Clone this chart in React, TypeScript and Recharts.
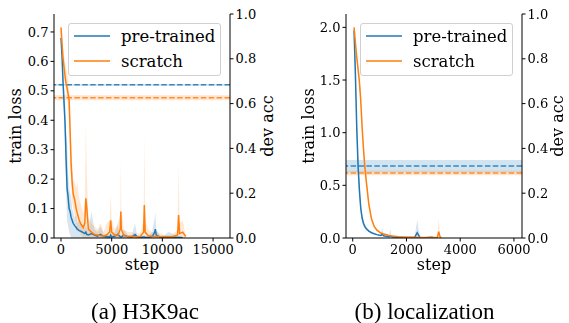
import {
  ComposedChart,
  XAxis,
  YAxis,
  Line,
  Area,
  ReferenceLine,
  ReferenceArea,
} from "recharts";

const BLUE = "#1f77b4";
const ORANGE = "#ff7f0e";
const FONT = "'DejaVu Serif', 'Liberation Serif', serif";

// (a) H3K9ac
const h3Steps = [
  0, 100, 200, 300, 400, 500, 600, 700, 800, 900,
  1000, 1100, 1200, 1350, 1500, 1600, 1800, 2000, 2200, 2350,
  2450, 2550, 2700, 3000, 3300, 3600, 3900, 4200, 4500, 4800,
  4900, 5000, 5300, 5600, 5850, 5900, 5950, 6200, 6600, 7000,
  7300, 7500, 7800, 8150, 8220, 8300, 8600, 9000, 9250, 9300,
  9400, 9800, 10200, 10600, 11000, 11500, 11600, 11700, 12000, 12300,
];
const h3Pre = [
  0.68, 0.62, 0.53, 0.46, 0.39, 0.27, 0.17, 0.14, 0.1, 0.09,
  0.07, 0.06, 0.05, 0.042, 0.036, 0.03, 0.025, 0.022, 0.018, 0.015,
  0.02, 0.012, 0.01, 0.015, 0.01, 0.006, 0.012, 0.005, 0.004, 0.003,
  0.01, 0.004, 0.006, 0.012, 0.004, 0.003, 0.003, 0.01, 0.004, 0.003,
  0.012, 0.004, 0.002, 0.003, 0.003, 0.002, 0.002, 0.005, 0.02, 0.03,
  0.01, 0.002, 0.002, 0.002, 0.003, 0.002, 0.002, 0.002, 0.001, null,
];
const h3PreLo = [
  0.66, 0.6, 0.5, 0.42, 0.33, 0.16, 0.06, 0.04, 0.02, 0.01,
  0, 0, 0, 0, 0, 0, 0, 0, 0, 0,
  0, 0, 0, 0, 0, 0, 0, 0, 0, 0,
  0, 0, 0, 0, 0, 0, 0, 0, 0, 0,
  0, 0, 0, 0, 0, 0, 0, 0, 0, 0,
  0, 0, 0, 0, 0, 0, 0, 0, 0, null,
];
const h3PreHi = [
  0.7, 0.65, 0.57, 0.51, 0.46, 0.36, 0.33, 0.22, 0.18, 0.15,
  0.14, 0.1, 0.09, 0.07, 0.08, 0.05, 0.06, 0.04, 0.05, 0.03,
  0.045, 0.03, 0.025, 0.09, 0.03, 0.02, 0.04, 0.015, 0.01, 0.01,
  0.03, 0.01, 0.02, 0.045, 0.01, 0.01, 0.01, 0.03, 0.01, 0.01,
  0.05, 0.01, 0.008, 0.008, 0.008, 0.008, 0.008, 0.02, 0.07, 0.09,
  0.03, 0.008, 0.01, 0.02, 0.015, 0.008, 0.008, 0.008, 0.005, null,
];
const h3Scr = [
  0.715, 0.66, 0.61, 0.58, 0.55, 0.525, 0.51, 0.49, 0.47, 0.36,
  0.25, 0.19, 0.15, 0.13, 0.1, 0.085, 0.06, 0.045, 0.035, 0.05,
  0.135, 0.1, 0.03, 0.02, 0.012, 0.01, 0.008, 0.006, 0.01, 0.02,
  0.06, 0.02, 0.01, 0.008, 0.03, 0.09, 0.03, 0.008, 0.005, 0.006,
  0.004, 0.004, 0.004, 0.02, 0.112, 0.02, 0.008, 0.006, 0.005, 0.005,
  0.006, 0.004, 0.004, 0.004, 0.004, 0.01, 0.078, 0.015, 0.02, 0.005,
];
const h3ScrLo = [
  0.7, 0.64, 0.58, 0.55, 0.52, 0.5, 0.48, 0.45, 0.4, 0.28,
  0.18, 0.12, 0.1, 0.08, 0.05, 0.03, 0.02, 0.01, 0, 0,
  0, 0, 0, 0, 0, 0, 0, 0, 0, 0,
  0, 0, 0, 0, 0, 0, 0, 0, 0, 0,
  0, 0, 0, 0, 0, 0, 0, 0, 0, 0,
  0, 0, 0, 0, 0, 0, 0, 0, 0, 0,
];
const h3ScrHi = [
  0.73, 0.7, 0.65, 0.62, 0.6, 0.58, 0.56, 0.54, 0.52, 0.44,
  0.32, 0.26, 0.2, 0.19, 0.17, 0.19, 0.13, 0.11, 0.08, 0.12,
  0.38, 0.22, 0.07, 0.05, 0.04, 0.03, 0.05, 0.02, 0.05, 0.06,
  0.15, 0.06, 0.03, 0.05, 0.08, 0.27, 0.1, 0.03, 0.02, 0.02,
  0.015, 0.015, 0.015, 0.06, 0.356, 0.06, 0.03, 0.02, 0.02, 0.02,
  0.02, 0.015, 0.01, 0.01, 0.01, 0.03, 0.245, 0.05, 0.06, 0.01,
];
const h3DevAcc = [0.684, 0.626];
const h3DevStd = [0.004, 0.011];

// (b) localization
const locSteps = [
  50, 100, 150, 200, 250, 300, 350, 400, 450, 500,
  600, 700, 800, 900, 1000, 1050, 1100, 1150, 1200, 1350,
  1400, 1450, 1500, 1700, 2000, 2300, 2400, 2500, 2700, 2950,
  3000, 3150, 3200, 3250, 3300,
];
const locPre = [
  1.97, 1.55, 1.05, 0.68, 0.45, 0.28, 0.19, 0.14, 0.11, 0.09,
  0.065, 0.05, 0.04, 0.032, 0.027, 0.025, 0.035, 0.02, 0.018, 0.013,
  0.02, 0.011, 0.01, 0.007, 0.005, 0.004, 0.05, 0.005, 0.003, 0.006,
  0.002, null, null, null, null,
];
const locPreLo = [
  1.93, 1.45, 0.93, 0.57, 0.36, 0.22, 0.15, 0.11, 0.09, 0.075,
  0.055, 0.042, 0.034, 0.027, 0.022, 0.02, 0.02, 0.016, 0.014, 0.01,
  0.01, 0.008, 0.007, 0.005, 0.003, 0.002, 0.01, 0.003, 0.002, 0.002,
  0.001, null, null, null, null,
];
const locPreHi = [
  2.0, 1.65, 1.17, 0.79, 0.54, 0.34, 0.23, 0.17, 0.13, 0.105,
  0.075, 0.058, 0.046, 0.037, 0.032, 0.04, 0.1, 0.025, 0.022, 0.016,
  0.085, 0.014, 0.013, 0.009, 0.007, 0.006, 0.17, 0.007, 0.004, 0.015,
  0.003, null, null, null, null,
];
const locScr = [
  2.0, 1.85, 1.72, 1.6, 1.48, 1.3, 1.05, 0.85, 0.68, 0.55,
  0.32, 0.18, 0.11, 0.075, 0.055, 0.048, 0.043, 0.038, 0.035, 0.025,
  0.022, 0.02, 0.018, 0.012, 0.008, 0.006, 0.005, 0.005, 0.004, 0.004,
  0.004, 0.005, 0.06, 0.01, 0.003,
];
const locScrLo = [
  1.98, 1.82, 1.68, 1.55, 1.42, 1.23, 0.98, 0.78, 0.62, 0.5,
  0.28, 0.155, 0.095, 0.064, 0.047, 0.04, 0.036, 0.032, 0.029, 0.02,
  0.018, 0.016, 0.014, 0.009, 0.006, 0.004, 0.003, 0.003, 0.002, 0.002,
  0.002, 0.002, 0.01, 0.004, 0.001,
];
const locScrHi = [
  2.02, 1.88, 1.76, 1.65, 1.54, 1.37, 1.12, 0.92, 0.74, 0.6,
  0.36, 0.2, 0.125, 0.086, 0.063, 0.056, 0.05, 0.044, 0.041, 0.03,
  0.026, 0.024, 0.022, 0.015, 0.01, 0.008, 0.007, 0.007, 0.006, 0.006,
  0.006, 0.008, 0.19, 0.016, 0.005,
];
const locDevAcc = [0.321, 0.29];
const locDevStd = [0.027, 0.01];

const seriesNames = ["pre-trained", "scratch"];

type Num = number | null;

const buildRows = (
  steps: number[],
  pre: Num[], preLo: Num[], preHi: Num[],
  scr: Num[], scrLo: Num[], scrHi: Num[]
) =>
  steps.map((step, i) => ({
    step,
    pre: pre[i],
    preBand: preLo[i] == null ? null : [preLo[i], preHi[i]],
    scr: scr[i],
    scrBand: scrLo[i] == null ? null : [scrLo[i], scrHi[i]],
  }));

const tickStyle = { fill: "#000", fontSize: 13, fontFamily: FONT };
const labelStyle = { fill: "#000", fontSize: 16, fontFamily: FONT, textAnchor: "middle" as const };

const LegendBox = ({ left }: { left: number }) => (
  <div
    style={{
      position: "absolute",
      left,
      top: 23,
      width: 153,
      height: 53,
      border: "1px solid #d0d0d0",
      borderRadius: 3,
      background: "rgba(255,255,255,0.8)",
      fontFamily: FONT,
      fontSize: 16.5,
      boxSizing: "border-box",
    }}
  >
    {seriesNames.map((name, i) => (
      <div
        key={name}
        style={{ position: "absolute", left: 5, top: 2 + i * 25, height: 20, display: "flex", alignItems: "center" }}
      >
        <svg width={36} height={4} style={{ marginRight: 11 }}>
          <line x1={0} x2={36} y1={2} y2={2} stroke={i === 0 ? BLUE : ORANGE} strokeWidth={1.5} />
        </svg>
        <span>{name}</span>
      </div>
    ))}
  </div>
);

type PanelProps = {
  left: number;
  width: number;
  rows: ReturnType<typeof buildRows>;
  xDomain: [number, number];
  xTicks: number[];
  yMax: number;
  yTicks: number[];
  leftAxisWidth: number;
  rightAxisWidth: number;
  leftLabelOffset: number;
  rightLabelOffset: number;
  devAcc: number[];
  devStd: number[];
  legendLeft: number;
  caption: string;
};

const Panel = (p: PanelProps) => (
  <div style={{ position: "absolute", left: p.left, top: 0, width: p.width, height: 323 }}>
    <ComposedChart
      width={p.width}
      height={290}
      data={p.rows}
      margin={{ top: 14, right: 0, bottom: 0, left: 0 }}
    >
      <XAxis
        dataKey="step"
        type="number"
        domain={p.xDomain}
        allowDataOverflow
        ticks={p.xTicks}
        tick={tickStyle}
        tickSize={3.5}
        tickMargin={3}
        stroke="#000"
        height={52}
        label={{ value: "step", position: "insideBottom", offset: 20, style: labelStyle }}
      />
      <XAxis
        xAxisId="top"
        dataKey="step"
        type="number"
        domain={p.xDomain}
        allowDataOverflow
        orientation="top"
        height={0}
        tick={false}
        tickLine={false}
        stroke="#000"
      />
      <YAxis
        yAxisId="loss"
        type="number"
        domain={[0, p.yMax]}
        allowDataOverflow
        ticks={p.yTicks}
        tickFormatter={(v: number) => v.toFixed(1)}
        tick={tickStyle}
        tickSize={3.5}
        tickMargin={2}
        stroke="#000"
        width={p.leftAxisWidth}
        label={{ value: "train loss", angle: -90, position: "insideLeft", offset: p.leftLabelOffset, style: labelStyle }}
      />
      <YAxis
        yAxisId="acc"
        orientation="right"
        type="number"
        domain={[0, 1]}
        allowDataOverflow
        ticks={[0, 0.2, 0.4, 0.6, 0.8, 1.0]}
        tickFormatter={(v: number) => v.toFixed(1)}
        tick={tickStyle}
        tickSize={3.5}
        tickMargin={2}
        stroke="#000"
        width={p.rightAxisWidth}
        label={{ value: "dev acc", angle: -90, position: "insideRight", offset: p.rightLabelOffset, style: labelStyle }}
      />
      {p.devAcc.map((v, i) => (
        <ReferenceArea
          key={"band" + i}
          yAxisId="acc"
          y1={v - p.devStd[i]}
          y2={v + p.devStd[i]}
          fill={i === 0 ? BLUE : ORANGE}
          fillOpacity={0.2}
          stroke="none"
          ifOverflow="hidden"
        />
      ))}
      {p.devAcc.map((v, i) => (
        <ReferenceLine
          key={"mean" + i}
          yAxisId="acc"
          y={v}
          stroke={i === 0 ? BLUE : ORANGE}
          strokeOpacity={0.85}
          strokeWidth={1.5}
          strokeDasharray="5.5 2.4"
        />
      ))}
      <Area
        yAxisId="loss"
        dataKey="preBand"
        type="linear"
        stroke="none"
        fill={BLUE}
        fillOpacity={0.18}
        isAnimationActive={false}
        connectNulls={false}
      />
      <Area
        yAxisId="loss"
        dataKey="scrBand"
        type="linear"
        stroke="none"
        fill={ORANGE}
        fillOpacity={0.18}
        isAnimationActive={false}
        connectNulls={false}
      />
      <Line
        yAxisId="loss"
        dataKey="pre"
        type="linear"
        stroke={BLUE}
        strokeWidth={1.5}
        dot={false}
        isAnimationActive={false}
      />
      <Line
        yAxisId="loss"
        dataKey="scr"
        type="linear"
        stroke={ORANGE}
        strokeWidth={1.5}
        dot={false}
        isAnimationActive={false}
      />
    </ComposedChart>
    <LegendBox left={p.legendLeft} />
    <div
      style={{
        position: "absolute",
        left: 0,
        width: p.width,
        top: 299,
        textAlign: "center",
        fontFamily: "'Liberation Serif', serif",
        fontSize: 23,
        lineHeight: "26px",
      }}
    >
      {p.caption}
    </div>
  </div>
);

export default function App() {
  const h3Rows = buildRows(h3Steps, h3Pre, h3PreLo, h3PreHi, h3Scr, h3ScrLo, h3ScrHi);
  const locRows = buildRows(locSteps, locPre, locPreLo, locPreHi, locScr, locScrLo, locScrHi);
  return (
    <div style={{ position: "fixed", left: 0, top: 0, width: 569, height: 323, background: "#fff" }}>
      <Panel
        left={0}
        width={290}
        rows={h3Rows}
        xDomain={[-690, 16670]}
        xTicks={[0, 5000, 10000, 15000]}
        yMax={0.761}
        yTicks={[0, 0.1, 0.2, 0.3, 0.4, 0.5, 0.6, 0.7]}
        leftAxisWidth={54}
        rightAxisWidth={60}
        leftLabelOffset={15}
        rightLabelOffset={23}
        devAcc={h3DevAcc}
        devStd={h3DevStd}
        legendLeft={68}
        caption="(a) H3K9ac"
      />
      <Panel
        left={280}
        width={289}
        rows={locRows}
        xDomain={[-250, 6300]}
        xTicks={[0, 2000, 4000, 6000]}
        yMax={2.127}
        yTicks={[0, 0.5, 1.0, 1.5, 2.0]}
        leftAxisWidth={66}
        rightAxisWidth={47}
        leftLabelOffset={28}
        rightLabelOffset={12}
        devAcc={locDevAcc}
        devStd={locDevStd}
        legendLeft={80}
        caption="(b) localization"
      />
    </div>
  );
}
